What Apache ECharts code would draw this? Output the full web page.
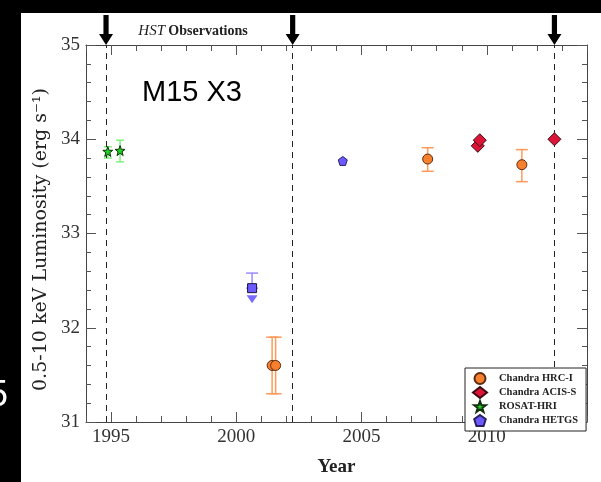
<!DOCTYPE html>
<html>
<head>
<meta charset="utf-8">
<script src="https://cdn.jsdelivr.net/npm/echarts@6/dist/echarts.min.js"></script>
<style>
  html, body { margin: 0; padding: 0; background: #fff; }
  #chart { width: 601px; height: 482px; }
</style>
</head>
<body>
<div id="chart"></div>
<script>
// Données
const hrcYears = [2001.43, 2001.57, 2007.64, 2011.4];
const hrcLum = [31.6, 31.6, 33.79, 33.73];
const hrcLow = [31.3, 31.3, 33.66, 33.55];
const hrcHigh = [31.9, 31.9, 33.91, 33.89];

const acisYears = [2009.64, 2009.72, 2012.7];
const acisLum = [33.93, 33.99, 34.0];

const rosatYears = [1994.87, 1995.36];
const rosatLum = [33.87, 33.88];
const rosatLow = [33.8, 33.76];
const rosatHigh = [33.92, 33.99];

const hetgsYears = [2004.25];
const hetgsLum = [33.77];

// Limite supérieure HETGS (carré + flèche)
const limitYears = [2000.63];
const limitLum = [32.42];
const limitHigh = [32.58];

// Observations HST (lignes pointillées + flèches)
const hstYears = [1994.8, 2002.25, 2012.7];

const xMajorTicks = [1995, 2000, 2005, 2010];
const yTicks = [31, 32, 33, 34, 35];

const STAR = "path://M0,-10 L2.35,-3.24 L9.51,-3.09 L3.8,1.24 L5.88,8.09 L0,4 L-5.88,8.09 L-3.8,1.24 L-9.51,-3.09 L-2.35,-3.24 Z";
const PENTAGON = "path://M0,-10 L9.51,-3.09 L5.88,8.09 L-5.88,8.09 L-9.51,-3.09 Z";
const ARROW = "path://M-2.6,0 L2.6,0 L2.6,19 L7,19 L0,30 L-7,19 L-2.6,19 Z";

const serif = "Liberation Serif";

function zip(xs, ys) {
  return xs.map((x, i) => [x, ys[i]]);
}

/**
 * Barres d'erreur verticales avec petits chapeaux
 */
function errorBars(name, xs, lows, highs, color, cap, width) {
  return {
    name: name + " err",
    type: "custom",
    z: 2,
    silent: true,
    data: xs.map((x, i) => [x, lows[i], highs[i]]),
    renderItem: function (params, api) {
      const x = api.value(0);
      const lo = api.coord([x, api.value(1)]);
      const hi = api.coord([x, api.value(2)]);
      const style = { stroke: color, lineWidth: width };
      return {
        type: "group",
        children: [
          { type: "line", shape: { x1: lo[0], y1: lo[1], x2: hi[0], y2: hi[1] }, style },
          { type: "line", shape: { x1: lo[0] - cap, y1: lo[1], x2: lo[0] + cap, y2: lo[1] }, style },
          { type: "line", shape: { x1: hi[0] - cap, y1: hi[1], x2: hi[0] + cap, y2: hi[1] }, style },
        ],
      };
    },
  };
}

function xAxisBase(position, major) {
  return {
    type: "value",
    position: position,
    min: 1994,
    max: 2014,
    interval: 1,
    axisLine: { show: !major, onZero: false, lineStyle: { color: "#444", width: 1 } },
    axisTick: major
      ? { inside: true, length: 10, customValues: xMajorTicks, lineStyle: { color: "#555" } }
      : { inside: true, length: 6, lineStyle: { color: "#555" } },
    axisLabel: {
      show: position === "bottom" && !major,
      formatter: (v) => (xMajorTicks.includes(v) ? String(v) : ""),
      fontFamily: serif,
      fontSize: 19,
      color: "#333",
      margin: 6,
    },
    splitLine: { show: false },
  };
}

function yAxisBase(position) {
  return {
    type: "value",
    position: position,
    min: yTicks[0],
    max: yTicks[yTicks.length - 1],
    interval: 1,
    axisLine: { show: true, onZero: false, lineStyle: { color: "#444", width: 1 } },
    axisTick: { inside: true, length: 10, lineStyle: { color: "#555" } },
    minorTick: { show: true, splitNumber: 5, length: 5, lineStyle: { color: "#555" } },
    axisLabel: {
      show: position === "left",
      fontFamily: serif,
      fontSize: 19,
      color: "#333",
      margin: 6,
    },
    splitLine: { show: false },
  };
}

function scatterSeries(name, symbol, size, fill, border, data) {
  return {
    name: name,
    type: "scatter",
    z: 5,
    symbol: symbol,
    symbolSize: size,
    itemStyle: { color: fill, borderColor: border, borderWidth: 1, opacity: 1 },
    data: data,
  };
}

function settingsLuminosity() {
  const yAxisLeft = yAxisBase("left");
  yAxisLeft.name = "0.5-10 keV Luminosity (erg s\u207B\u00B9)";
  yAxisLeft.nameLocation = "middle";
  yAxisLeft.nameGap = 34;
  yAxisLeft.nameTextStyle = {
    fontFamily: "DejaVu Serif",
    fontSize: 19,
    color: "#222",
    padding: [0, 12, 0, 0],
  };

  const xAxisBottom = xAxisBase("bottom", false);
  xAxisBottom.name = "Year";
  xAxisBottom.nameLocation = "middle";
  xAxisBottom.nameGap = 36;
  xAxisBottom.nameTextStyle = { fontFamily: serif, fontSize: 19, fontWeight: "bold", color: "#222" };

  return {
    animation: false,
    backgroundColor: "#fff",
    grid: { left: 86, top: 45, right: 14, bottom: 47 },
    xAxis: [
      xAxisBottom,
      xAxisBase("bottom", true),
      xAxisBase("top", false),
      xAxisBase("top", true),
    ],
    yAxis: [yAxisLeft, yAxisBase("right")],
    legend: {
      data: ["Chandra HRC-I", "Chandra ACIS-S", "ROSAT-HRI", "Chandra HETGS"],
      orient: "vertical",
      z: 30,
      left: 465,
      top: 368,
      padding: [4, 8, 4, 7],
      itemGap: 1,
      itemWidth: 14,
      itemHeight: 11,
      borderColor: "#222",
      borderWidth: 1,
      borderRadius: 0,
      backgroundColor: "#fff",
      textStyle: {
        fontFamily: serif,
        fontWeight: "bold",
        fontSize: 10.5,
        lineHeight: 11,
        color: "#222",
        padding: [0, 0, 0, 7],
      },
    },
    graphic: [
      { type: "rect", shape: { x: 0, y: 0, width: 601, height: 13 }, style: { fill: "#000" }, z: 100 },
      { type: "rect", shape: { x: 0, y: 0, width: 21, height: 482 }, style: { fill: "#000" }, z: 100 },
      { type: "text", x: -12, y: 378, z: 101, style: { text: "5", font: "36px Liberation Sans", fill: "#fff" } },
      {
        type: "text",
        x: 142,
        y: 93,
        z: 50,
        style: { text: "M15 X3", font: "29px Liberation Sans", fill: "#000", verticalAlign: "middle" },
      },
      {
        type: "text",
        x: 193,
        y: 31,
        z: 50,
        style: {
          text: "{i|HST} {b|Observations}",
          align: "center",
          verticalAlign: "middle",
          rich: {
            i: { fontFamily: serif, fontStyle: "italic", fontSize: 15, fill: "#222" },
            b: { fontFamily: serif, fontWeight: "bold", fontSize: 14, fill: "#222" },
          },
        },
      },
    ],
    series: [
      // Flèches HST + lignes pointillées
      {
        name: "HST",
        type: "scatter",
        clip: false,
        silent: true,
        z: 20,
        symbol: ARROW,
        symbolSize: [14, 30],
        symbolOffset: [0, -15],
        itemStyle: { color: "#000", opacity: 1 },
        data: hstYears.map((x) => [x, 35]),
        markLine: {
          silent: true,
          symbol: ["none", "none"],
          label: { show: false },
          lineStyle: { type: [6, 5], color: "#222", width: 1 },
          data: hstYears.map((x) => ({ xAxis: x })),
        },
      },
      errorBars("Chandra HRC-I", hrcYears, hrcLow, hrcHigh, "#ff9a5a", 6, 1.5),
      errorBars("ROSAT-HRI", rosatYears, rosatLow, rosatHigh, "#7ef07e", 4, 1.5),
      errorBars("limit", limitYears, limitLum, limitHigh, "#9a8cff", 6, 1.5),
      scatterSeries("Chandra HRC-I", "circle", 10, "#f7802e", "#5a2c10", zip(hrcYears, hrcLum)),
      scatterSeries("Chandra ACIS-S", "diamond", 13, "#dc1438", "#3a0a10", zip(acisYears, acisLum)),
      scatterSeries("ROSAT-HRI", STAR, 10, "#1ed31e", "#10300e", zip(rosatYears, rosatLum)),
      scatterSeries("Chandra HETGS", PENTAGON, 9, "#6a5aff", "#2a2060", zip(hetgsYears, hetgsLum)),
      scatterSeries("HETGS limit", "rect", 9, "#6a5aff", "#1a1440", zip(limitYears, limitLum)),
      {
        name: "HETGS limit arrow",
        type: "scatter",
        z: 5,
        symbol: "triangle",
        symbolRotate: 180,
        symbolSize: [11, 8],
        symbolOffset: [0, 11],
        itemStyle: { color: "#7a6aff", opacity: 1 },
        data: zip(limitYears, limitLum),
      },
    ],
  };
}

const dom = document.getElementById("chart");
const myChart = echarts.init(dom);
myChart.setOption(settingsLuminosity());
</script>
</body>
</html>
